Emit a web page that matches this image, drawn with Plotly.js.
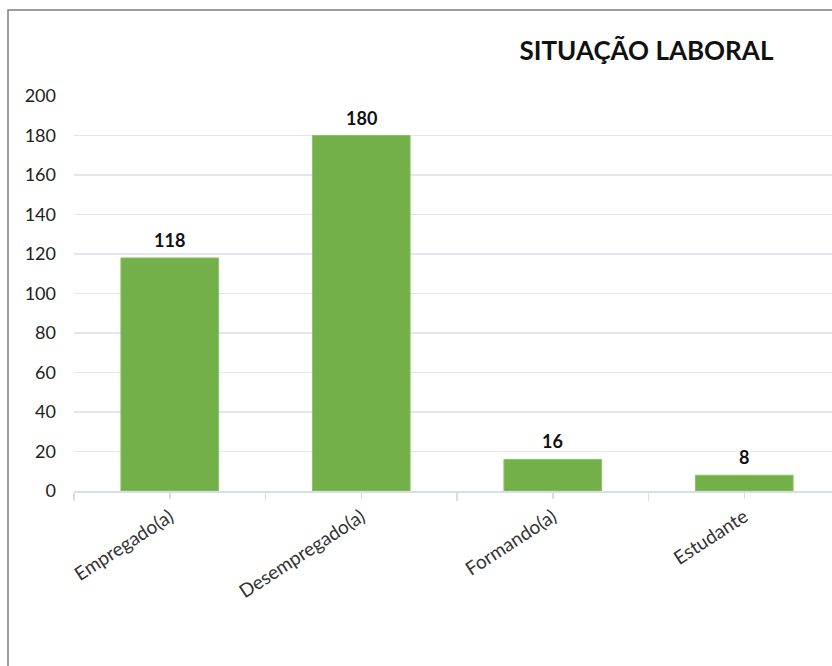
<!DOCTYPE html>
<html>
<head>
<meta charset="utf-8">
<script src="https://cdn.plot.ly/plotly-3.0.1.min.js"></script>
<style>
  html, body { margin: 0; padding: 0; background: #fff; }
  #chart { width: 832px; height: 666px; }
</style>
</head>
<body>
<div id="chart"></div>
<script>
const categories = ["Empregado(a)", "Desempregado(a)", "Formando(a)", "Estudante"];
const values = [118, 180, 16, 8];
const yTicks = [0, 20, 40, 60, 80, 100, 120, 140, 160, 180, 200];
const chartTitle = "SITUAÇÃO LABORAL";

const FONT = "Lato, 'Open Sans', sans-serif";

const bars = {
  type: "bar",
  x: categories,
  y: values,
  width: 0.51,
  marker: { color: "#74b04a", line: { color: "#8cc267", width: 1 } },
  hoverinfo: "skip",
  showlegend: false
};

// ticks at category centres (second axis overlay)
const centreTicks = {
  type: "scatter",
  x: categories,
  y: values.map(() => null),
  xaxis: "x2",
  yaxis: "y",
  mode: "markers",
  showlegend: false,
  hoverinfo: "skip"
};

const annotations = categories.map((c, i) => ({
  x: c, y: values[i], xref: "x", yref: "y",
  text: "<b>" + values[i] + "</b>",
  showarrow: false, yanchor: "bottom", yshift: 5,
  font: { family: FONT, size: 18, color: "#111" }
}));

const layout = {
  width: 832, height: 666,
  margin: { l: 74, r: 0, t: 96, b: 175 },
  paper_bgcolor: "#fff", plot_bgcolor: "#fff",
  font: { family: FONT, color: "#333" },
  title: {
    text: "<b>" + chartTitle + "</b>",
    x: 0.777, xref: "container", xanchor: "center",
    y: 0.924, yref: "container", yanchor: "middle",
    font: { family: FONT, size: 26, color: "#111" }
  },
  bargap: 0.49,
  xaxis: {
    type: "category",
    range: [-0.5, 3.458],
    tickangle: -33,
    tickfont: { family: FONT, size: 19, color: "#333" },
    ticklabelstandoff: 6,
    ticks: "outside", tickson: "boundaries", ticklen: 8, tickcolor: "#d9dde6", tickwidth: 1.5,
    showline: true, linecolor: "#d9dde6", linewidth: 1.5,
    showgrid: false, zeroline: false, fixedrange: true
  },
  xaxis2: {
    type: "category", overlaying: "x", matches: "x",
    ticks: "outside", ticklen: 7, tickcolor: "#d9dde6", tickwidth: 1.5,
    showticklabels: false, showgrid: false, showline: false, zeroline: false
  },
  yaxis: {
    range: [0, 200],
    tickvals: yTicks,
    tickfont: { family: FONT, size: 18, color: "#222" },
    ticklabelstandoff: 17,
    showgrid: true, gridcolor: "#e3e6ee", gridwidth: 1.2,
    zeroline: false, showline: false, ticks: "", fixedrange: true
  },
  annotations: annotations,
  shapes: [{
    type: "rect", xref: "paper", yref: "paper",
    x0: (8 - 74) / 758, x1: 1.2, y0: -1, y1: (491 - 10) / 395,
    line: { color: "#7f7f7f", width: 1.5 }, fillcolor: "rgba(0,0,0,0)", layer: "above"
  }]
};

Plotly.newPlot("chart", [bars, centreTicks], layout, { displayModeBar: false, staticPlot: true });
</script>
</body>
</html>
